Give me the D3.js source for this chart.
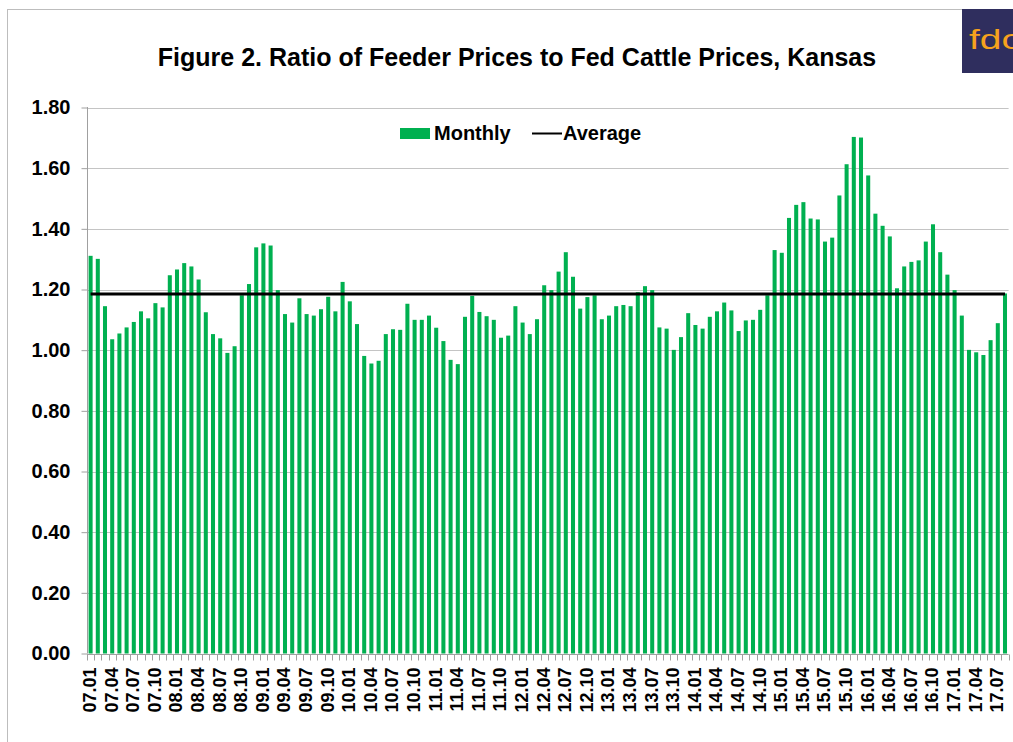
<!DOCTYPE html>
<html>
<head>
<meta charset="utf-8">
<script src="https://cdn.jsdelivr.net/npm/d3@7"></script>
<style>
  html, body { margin: 0; padding: 0; background: #ffffff; }
  svg { display: block; }
  text { font-family: "Liberation Sans", Arial, sans-serif; }
</style>
</head>
<body>
<svg id="chart" width="1013" height="742"></svg>
<script>
// ---------------- data ----------------
const titleText = "Figure 2. Ratio of Feeder Prices to Fed Cattle Prices, Kansas";
const years = ["07","08","09","10","11","12","13","14","15","16","17"];
const monthsNum = ["01","02","03","04","05","06","07","08","09","10","11","12"];
// monthly categories 07.01 .. 17.08
const months = [];
years.forEach(y => monthsNum.forEach(m => months.push(y + "." + m)));
months.splice(128);
const ratio = [
  1.311, 1.301, 1.145, 1.036, 1.055, 1.075, 1.093, 1.128, 1.105, 1.155, 1.141, 1.247,
  1.266, 1.287, 1.276, 1.233, 1.125, 1.053, 1.039, 0.991, 1.013, 1.181, 1.218, 1.339,
  1.352, 1.345, 1.198, 1.119, 1.091, 1.171, 1.119, 1.114, 1.135, 1.176, 1.128, 1.225,
  1.161, 1.086, 0.981, 0.956, 0.965, 1.053, 1.069, 1.067, 1.153, 1.100, 1.100, 1.114,
  1.074, 1.030, 0.968, 0.954, 1.110, 1.179, 1.126, 1.112, 1.100, 1.041, 1.048, 1.145,
  1.091, 1.053, 1.102, 1.214, 1.198, 1.259, 1.323, 1.242, 1.137, 1.175, 1.181, 1.102,
  1.114, 1.145, 1.149, 1.145, 1.191, 1.211, 1.198, 1.075, 1.071, 1.001, 1.043, 1.122,
  1.083, 1.071, 1.110, 1.128, 1.157, 1.131, 1.063, 1.098, 1.100, 1.133, 1.181, 1.330,
  1.321, 1.436, 1.479, 1.488, 1.434, 1.431, 1.358, 1.371, 1.510, 1.613, 1.703, 1.701,
  1.576, 1.450, 1.410, 1.375, 1.204, 1.276, 1.291, 1.296, 1.358, 1.415, 1.323, 1.249,
  1.198, 1.114, 1.001, 0.993, 0.984, 1.033, 1.089, 1.187
];
const averageValue = 1.185;
const yTicks = [0, 0.2, 0.4, 0.6, 0.8, 1.0, 1.2, 1.4, 1.6, 1.8];
const xLabelEvery = 3;
const legendLabels = ["Monthly", "Average"];

// ---------------- drawing ----------------
const svg = d3.select("#chart");
const green = "#00b050";
const gridColor = "#c4c4c4";
const axisColor = "#a0a0a0";

const plot = { left: 87, right: 1008.6, top: 107.5, bottom: 653.5 };

// frame
svg.append("rect").attr("width", 1013).attr("height", 742).attr("fill", "#fff");
svg.append("line").attr("x1", 7.5).attr("x2", 7.5).attr("y1", 10).attr("y2", 742)
  .attr("stroke", "#bdbdbd").attr("stroke-width", 1);
svg.append("line").attr("x1", 7).attr("x2", 962).attr("y1", 9.5).attr("y2", 9.5)
  .attr("stroke", "#bdbdbd").attr("stroke-width", 1);

// logo
svg.append("rect").attr("x", 962).attr("y", 9).attr("width", 51).attr("height", 64)
  .attr("fill", "#2f2e5e");
svg.append("text").attr("x", 969).attr("y", 49)
  .attr("font-size", 27).attr("fill", "#f6a21d")
  .attr("textLength", 52).attr("lengthAdjust", "spacingAndGlyphs")
  .text("fdc");

const x = d3.scaleBand().domain(months).range([plot.left, plot.right])
  .paddingInner(0.44).paddingOuter(0.22);
const y = d3.scaleLinear().domain([0, 1.8]).range([plot.bottom, plot.top]);
const step = x.step();

// gridlines
svg.append("g").selectAll("line").data(yTicks.filter(d => d > 0)).join("line")
  .attr("x1", plot.left).attr("x2", plot.right)
  .attr("y1", d => Math.round(y(d)) + 0.5).attr("y2", d => Math.round(y(d)) + 0.5)
  .attr("stroke", gridColor).attr("stroke-width", 1);

// bars
svg.append("g").selectAll("rect").data(ratio).join("rect")
  .attr("x", (d, i) => x(months[i]))
  .attr("width", x.bandwidth())
  .attr("y", d => y(d))
  .attr("height", d => y(0) - y(d))
  .attr("fill", green);

// average line
svg.append("line")
  .attr("x1", x(months[0]) + x.bandwidth() / 2)
  .attr("x2", x(months[months.length - 1]) + x.bandwidth() / 2)
  .attr("y1", y(averageValue)).attr("y2", y(averageValue))
  .attr("stroke", "#000").attr("stroke-width", 3);

// y axis
const yAxis = d3.axisLeft(y).tickValues(yTicks).tickFormat(d3.format(".2f")).tickSize(6).tickPadding(11);
const gy = svg.append("g").attr("transform", `translate(${plot.left + 0.5},0)`).call(yAxis);
gy.select(".domain").attr("stroke", axisColor).attr("d", `M-6,${plot.top}V${plot.bottom}`);
gy.select(".domain").attr("d", `M0,${plot.top - 0.5}V${plot.bottom}`);
gy.selectAll(".tick line").attr("stroke", axisColor);
gy.selectAll(".tick text").attr("font-size", 20).attr("font-weight", "bold")
  .attr("fill", "#000").attr("font-family", "Liberation Sans, Arial, sans-serif");

// x axis
const gx = svg.append("g").attr("transform", `translate(0,${Math.round(plot.bottom) + 0.5})`);
gx.append("line").attr("x1", plot.left).attr("x2", plot.right).attr("y1", 0).attr("y2", 0)
  .attr("stroke", axisColor);
const boundaries = months.map((m, i) => x(m) - x.paddingOuter() * step * 0 - (step - x.bandwidth()) / 2);
boundaries.push(plot.right);
gx.selectAll("line.tk").data(boundaries).join("line").attr("class", "tk")
  .attr("x1", d => Math.round(d) + 0.5).attr("x2", d => Math.round(d) + 0.5)
  .attr("y1", 0).attr("y2", 6).attr("stroke", axisColor);
gx.selectAll("text").data(months.filter((m, i) => i % xLabelEvery === 0)).join("text")
  .attr("transform", d => `translate(${x(d) + x.bandwidth() / 2 - 1},${13}) rotate(-90)`)
  .attr("text-anchor", "end").attr("dy", "0.36em")
  .attr("font-size", 18).attr("font-weight", "bold").attr("fill", "#000")
  .text(d => d);

// title
svg.append("text").attr("x", 517).attr("y", 66).attr("text-anchor", "middle")
  .attr("font-size", 25).attr("font-weight", "bold").attr("fill", "#000")
  .text(titleText);

// legend
const lg = svg.append("g");
lg.append("rect").attr("x", 400).attr("y", 128).attr("width", 30).attr("height", 11).attr("fill", green);
lg.append("text").attr("x", 434).attr("y", 139.5).attr("font-size", 20).attr("font-weight", "bold")
  .attr("fill", "#000").text(legendLabels[0]);
lg.append("line").attr("x1", 532).attr("x2", 562).attr("y1", 133.5).attr("y2", 133.5)
  .attr("stroke", "#000").attr("stroke-width", 2);
lg.append("text").attr("x", 563).attr("y", 139.5).attr("font-size", 20).attr("font-weight", "bold")
  .attr("fill", "#000").text(legendLabels[1]);
</script>
</body>
</html>
